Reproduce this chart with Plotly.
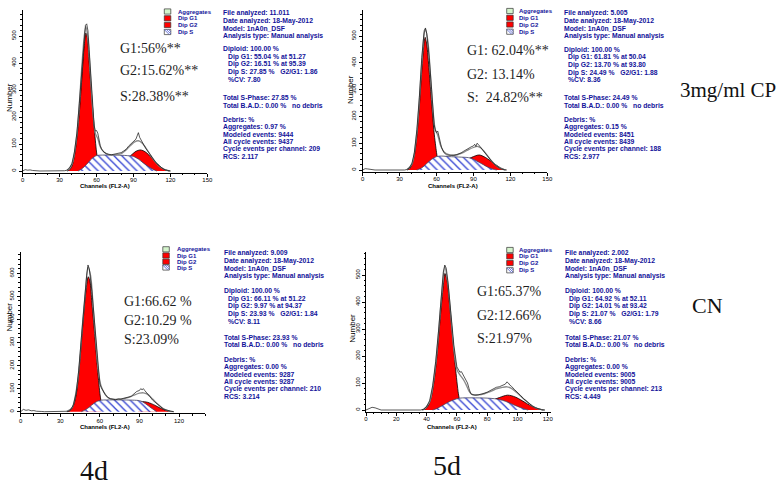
import plotly.graph_objects as go

W, H = 780, 488

# ======================= DATA =======================
# Panel A (top-left): G1:56%  G2:15.62%  S:28.38%
a_g1_ch = [36, 38, 40, 42, 44, 46, 48, 50, 51.3, 52.5, 54, 56, 58, 60, 61]
a_g1 = [0, 4, 18, 55, 120, 215, 340, 465, 511, 495, 400, 280, 165, 70, 40]
a_s_ch = [45, 48, 52, 56, 60, 65, 75, 85, 90, 94, 98, 102, 106, 109]
a_s = [0, 8, 25, 45, 57, 59, 59, 57, 54, 44, 30, 17, 6, 0]
a_g2_ch = [86, 89, 92, 95.4, 98, 101, 104, 107, 110, 113, 116, 119]
a_g2 = [50, 62, 73, 78, 75, 66, 52, 38, 24, 12, 4, 0]
a_fit_ch = [36, 40, 44, 48, 50, 51.3, 53, 55, 57, 59, 61, 63, 66, 70, 75, 80, 85, 88, 91, 94, 97, 100, 104, 108, 112, 116, 120]
a_fit = [2, 25, 135, 385, 500, 535, 490, 360, 220, 140, 120, 90, 70, 60, 60, 64, 82, 96, 108, 112, 104, 86, 58, 32, 14, 4, 0]
a_hist_ch = [0, 2, 4, 6, 8, 10, 14, 34, 36, 38, 40, 42, 44, 46, 48, 50, 51, 52, 53, 54, 56, 58, 59, 60, 61, 62, 63, 64, 66, 68, 70, 72, 74, 76, 78, 80, 82, 84, 86, 88, 90, 91, 92, 93, 94, 95, 96, 98, 100, 102, 104, 106, 108, 110, 112, 114, 116, 118, 120]
a_hist = [0, 5, 3, 4, 2, 1, 0, 1, 3, 10, 28, 70, 140, 250, 380, 500, 540, 545, 520, 450, 300, 170, 148, 150, 140, 115, 95, 82, 70, 64, 62, 60, 62, 64, 66, 68, 74, 80, 92, 100, 108, 112, 118, 130, 142, 125, 118, 100, 84, 70, 58, 45, 32, 22, 14, 8, 4, 1, 0]

# Panel B (top-right): G1 62.04%  G2 13.14%  S 24.82%
b_g1_ch = [36, 38, 40, 42, 44, 46, 48, 50, 50.7, 52, 54, 56, 58, 60, 61]
b_g1 = [0, 4, 20, 55, 125, 235, 370, 480, 495, 470, 370, 250, 140, 65, 35]
b_s_ch = [44, 48, 52, 56, 60, 64, 70, 80, 86, 90, 94, 98, 102, 106, 109]
b_s = [0, 8, 24, 40, 50, 52, 50, 48, 46, 40, 30, 20, 10, 3, 0]
b_g2_ch = [86, 90, 93, 95, 97, 100, 103, 106, 109, 112, 115, 117]
b_g2 = [42, 50, 55, 56, 53, 46, 37, 27, 17, 8, 2, 0]
b_fit_ch = [36, 40, 44, 48, 50, 51, 53, 55, 57, 59, 61, 63, 66, 70, 76, 82, 86, 90, 93, 96, 100, 104, 108, 112, 116]
b_fit = [2, 22, 140, 400, 510, 525, 480, 360, 230, 150, 130, 95, 68, 57, 56, 66, 76, 84, 88, 82, 62, 38, 18, 6, 0]
b_hist_ch = [0, 2, 4, 6, 8, 10, 34, 36, 38, 40, 42, 44, 46, 48, 50, 51, 52, 54, 56, 58, 59, 60, 61, 62, 64, 66, 68, 70, 72, 74, 76, 78, 80, 82, 84, 86, 88, 90, 91, 92, 93, 94, 95, 96, 98, 100, 102, 104, 106, 108, 110, 112, 114, 116]
b_hist = [0, 5, 4, 3, 1, 0, 0, 2, 8, 25, 65, 150, 270, 420, 520, 530, 510, 420, 300, 170, 150, 140, 145, 120, 85, 65, 57, 55, 54, 55, 57, 60, 64, 70, 76, 82, 86, 90, 96, 88, 100, 95, 90, 82, 72, 60, 48, 36, 26, 17, 10, 5, 2, 0]

# Panel C (bottom-left): G1 66.62%  G2 10.29%  S 23.09%
c_g1_ch = [35, 37, 39, 41, 43, 45, 47, 49, 51.2, 52.5, 54, 56, 58, 60, 61]
c_g1 = [0, 3, 15, 45, 110, 230, 370, 500, 585, 565, 470, 340, 200, 80, 40]
c_s_ch = [46, 49, 52, 55, 58, 61, 65, 75, 85, 90, 92, 95, 98, 101, 103]
c_s = [0, 8, 20, 34, 45, 50, 51, 51, 50, 48, 44, 33, 20, 8, 0]
c_g2_ch = [89, 91, 94, 96, 99, 102, 105, 108, 111, 114]
c_g2 = [44, 44, 43, 41, 35, 27, 18, 10, 4, 0]
c_fit_ch = [35, 39, 43, 47, 49, 51, 53, 55, 57, 59, 61, 63, 66, 70, 76, 82, 86, 90, 93, 96, 100, 104, 108, 112, 116]
c_fit = [2, 18, 125, 390, 520, 625, 590, 450, 300, 170, 110, 85, 62, 54, 55, 62, 72, 80, 82, 76, 55, 32, 14, 4, 0]
c_hist_ch = [0, 2, 4, 6, 8, 10, 12, 14, 16, 18, 34, 36, 38, 40, 42, 44, 46, 48, 50, 51, 52, 54, 56, 58, 60, 61, 62, 64, 66, 68, 70, 72, 74, 76, 78, 80, 82, 84, 86, 88, 90, 91, 92, 93, 94, 96, 98, 100, 102, 104, 106, 108, 110, 112, 114, 116]
c_hist = [0, 10, 6, 8, 4, 5, 2, 3, 1, 0, 0, 2, 10, 30, 80, 180, 320, 470, 590, 636, 620, 520, 380, 230, 120, 105, 95, 75, 62, 56, 54, 52, 55, 54, 58, 60, 64, 68, 80, 88, 92, 100, 95, 100, 92, 80, 65, 50, 40, 28, 20, 12, 8, 4, 2, 0]

# Panel D (bottom-right): G1 65.37%  G2 12.66%  S 21.97%
d_g1_ch = [37, 39, 41, 43, 45, 47, 49, 51, 52.1, 53.5, 55, 57, 59, 61, 62]
d_g1 = [0, 3, 15, 45, 110, 210, 340, 460, 506, 480, 400, 280, 160, 60, 30]
d_s_ch = [44, 47, 50, 54, 58, 62, 70, 80, 86, 90, 94, 98, 102, 105, 107]
d_s = [0, 6, 15, 28, 38, 44, 45, 44, 41, 36, 28, 18, 9, 3, 0]
d_g2_ch = [85, 88, 91, 93.4, 96, 99, 102, 105, 108, 111, 114, 117]
d_g2 = [40, 46, 52, 55, 53, 47, 38, 28, 18, 10, 4, 0]
d_fit_ch = [38, 42, 46, 50, 52, 54, 56, 58, 60, 62, 64, 66, 68, 70, 76, 82, 86, 90, 93, 96, 100, 104, 108, 112, 116, 118]
d_fit = [2, 30, 170, 430, 530, 470, 350, 225, 150, 130, 115, 95, 70, 58, 57, 68, 78, 84, 86, 80, 62, 42, 22, 8, 1, 0]
d_hist_ch = [0, 2, 4, 6, 8, 10, 36, 38, 40, 42, 44, 46, 48, 50, 51, 52, 53, 54, 56, 58, 60, 61, 62, 63, 64, 65, 66, 67, 68, 69, 70, 72, 74, 76, 78, 80, 82, 84, 86, 88, 90, 92, 93, 94, 95, 96, 98, 100, 102, 104, 106, 108, 110, 112, 114, 116, 118]
d_hist = [0, 4, 10, 8, 3, 0, 0, 3, 12, 35, 90, 180, 300, 440, 510, 537, 525, 480, 360, 240, 160, 148, 140, 142, 132, 120, 112, 100, 80, 62, 57, 55, 56, 58, 62, 66, 72, 78, 84, 86, 90, 96, 104, 100, 92, 88, 76, 66, 54, 42, 32, 22, 14, 8, 4, 1, 0]

# big labels
a_labels = ["G1:56%**", "G2:15.62%**", "S:28.38%**"]
b_labels = ["G1: 62.04%**", "G2: 13.14%", "S:\u00a0\u00a024.82%**"]
c_labels = ["G1:66.62 %", "G2:10.29 %", "S:23.09%"]
d_labels = ["G1:65.37%", "G2:12.66%", "S:21.97%"]

legend_items = ["Aggregates", "Dip G1", "Dip G2", "Dip S"]

SP = "\u00a0\u00a0\u00a0"
a_info = [["File analyzed: 11.011", "Date analyzed: 18-May-2012", "Model: 1nA0n_DSF", "Analysis type: Manual analysis"],
          ["Diploid: 100.00 %", "Dip G1: 55.04 % at 51.27", "Dip G2: 16.51 % at 95.39", "Dip S: 27.85 %" + SP + "G2/G1: 1.86", "%CV: 7.80"],
          ["Total S-Phase: 27.85 %", "Total B.A.D.: 0.00 %" + SP + "no debris"],
          ["Debris: %", "Aggregates: 0.97 %", "Modeled events: 9444", "All cycle events: 9437", "Cycle events per channel: 209", "RCS: 2.117"]]
b_info = [["File analyzed: 5.005", "Date analyzed: 18-May-2012", "Model: 1nA0n_DSF", "Analysis type: Manual analysis"],
          ["Diploid: 100.00 %", "Dip G1: 61.81 % at 50.04", "Dip G2: 13.70 % at 93.80", "Dip S: 24.49 %" + SP + "G2/G1: 1.88", "%CV: 8.36"],
          ["Total S-Phase: 24.49 %", "Total B.A.D.: 0.00 %" + SP + "no debris"],
          ["Debris: %", "Aggregates: 0.15 %", "Modeled events: 8451", "All cycle events: 8439", "Cycle events per channel: 188", "RCS: 2.977"]]
c_info = [["File analyzed: 9.009", "Date analyzed: 18-May-2012", "Model: 1nA0n_DSF", "Analysis type: Manual analysis"],
          ["Diploid: 100.00 %", "Dip G1: 66.11 % at 51.22", "Dip G2: 9.97 % at 94.37", "Dip S: 23.93 %" + SP + "G2/G1: 1.84", "%CV: 8.11"],
          ["Total S-Phase: 23.93 %", "Total B.A.D.: 0.00 %" + SP + "no debris"],
          ["Debris: %", "Aggregates: 0.00 %", "Modeled events: 9287", "All cycle events: 9287", "Cycle events per channel: 210", "RCS: 3.214"]]
d_info = [["File analyzed: 2.002", "Date analyzed: 18-May-2012", "Model: 1nA0n_DSF", "Analysis type: Manual analysis"],
          ["Diploid: 100.00 %", "Dip G1: 64.92 % at 52.11", "Dip G2: 14.01 % at 93.42", "Dip S: 21.07 %" + SP + "G2/G1: 1.79", "%CV: 8.66"],
          ["Total S-Phase: 21.07 %", "Total B.A.D.: 0.00 %" + SP + "no debris"],
          ["Debris: %", "Aggregates: 0.00 %", "Modeled events: 9005", "All cycle events: 9005", "Cycle events per channel: 213", "RCS: 4.449"]]

row_labels = ["3mg/ml CP", "CN"]
col_labels = ["4d", "5d"]

# ======================= LAYOUT GEOMETRY =======================
panels = [
    dict(d=(a_g1_ch, a_g1, a_s_ch, a_s, a_g2_ch, a_g2, a_fit_ch, a_fit, a_hist_ch, a_hist),
         labels=a_labels, info=a_info,
         xpx=(22.7, 207.3), xmax=150, xdt=30, xminor=10, y0=171, ys=0.27, ytop=10,
         lab=(118, [48, 71, 97]), leg=(164.3, 176, [11.5, 18.3, 25.0, 32.0]),
         infox=221.3, infoy=[13.3, 49.3, 98.0, 119.3],
         chan=(105, 185.5), num=(10, 98), nsub=""),
    dict(d=(b_g1_ch, b_g1, b_s_ch, b_s, b_g2_ch, b_g2, b_fit_ch, b_fit, b_hist_ch, b_hist),
         labels=b_labels, info=b_info,
         xpx=(362.7, 547.3), xmax=150, xdt=30, xminor=10, y0=170, ys=0.268, ytop=10,
         lab=(465, [50, 74, 98]), leg=(506.7, 516.7, [11.0, 17.8, 24.5, 31.7]),
         infox=561.7, infoy=[13.3, 50.0, 97.5, 119.3],
         chan=(453, 185.5), num=(350, 90), nsub="2"),
    dict(d=(c_g1_ch, c_g1, c_s_ch, c_s, c_g2_ch, c_g2, c_fit_ch, c_fit, c_hist_ch, c_hist),
         labels=c_labels, info=c_info,
         xpx=(20.7, 205.4), xmax=140, xdt=30, xminor=10, y0=411.7, ys=0.2307, ytop=251.7,
         lab=(121.7, [301.7, 320, 339.3]), leg=(162.8, 174.5, [249.3, 255.5, 261.7, 267.5]),
         infox=221.7, infoy=[253.3, 291.0, 337.3, 359.3],
         chan=(105, 426.5), num=(8.5, 317), nsub="3"),
    dict(d=(d_g1_ch, d_g1, d_s_ch, d_s, d_g2_ch, d_g2, d_fit_ch, d_fit, d_hist_ch, d_hist),
         labels=d_labels, info=d_info,
         xpx=(366, 550.8), xmax=122, xdt=20, xminor=5, y0=410, ys=0.27, ytop=251.7,
         lab=(475, [291.7, 315, 338.3]), leg=(506.7, 516.7, [250.0, 256.3, 263.0, 270.3]),
         infox=562.7, infoy=[253.3, 291.0, 337.3, 359.3],
         chan=(451.5, 426.5), num=(351.7, 328), nsub="4"),
]

BLUE = "#12129a"
SANS = "Liberation Sans, Arial, sans-serif"
SERIF = "Liberation Serif, Times New Roman, serif"

def px(x):
    return x / W

def py(y):
    return 1 - y / H

fig = go.Figure()
annotations = []
shapes = []
layout_axes = {}

for p in panels:
    n = p["nsub"]
    xa, ya = "x" + n, "y" + n
    g1c, g1, sc, s, g2c, g2, fc, f, hc, h = p["d"]
    common = dict(xaxis=xa, yaxis=ya, mode="lines", hoverinfo="skip", showlegend=False)
    fig.add_trace(go.Scatter(x=g1c, y=g1, fill="tozeroy", fillcolor="#ff0000",
                             line=dict(color="#000000", width=0.8, shape="spline", smoothing=0.8), **common))
    fig.add_trace(go.Scatter(x=g2c, y=g2, fill="tozeroy", fillcolor="#ff0000",
                             line=dict(color="#000000", width=0.8, shape="spline", smoothing=0.8), **common))
    fig.add_trace(go.Scatter(x=sc, y=s, fill="tozeroy", fillcolor="white",
                             fillpattern=dict(shape="\\", fgcolor="#2a3ad0", bgcolor="white", size=5.5, solidity=0.22),
                             line=dict(color="#404060", width=0.8, shape="spline", smoothing=0.8), **common))
    fig.add_trace(go.Scatter(x=fc, y=f, line=dict(color="#8a8a8a", width=1.3, shape="spline", smoothing=0.8), **common))
    fig.add_trace(go.Scatter(x=hc, y=h, line=dict(color="#111111", width=0.7), **common))

    x0p, x1p = p["xpx"]
    y0, ys, ytop = p["y0"], p["ys"], p["ytop"]
    ybot = y0 + 1.6
    ymin = -(ybot - y0) / ys
    ymax = (y0 - ytop) / ys
    key = n
    layout_axes["xaxis" + key] = dict(
        domain=[px(x0p), px(x1p)], range=[0, p["xmax"]], anchor=ya, automargin=False,
        showline=True, linecolor="black", linewidth=1, showgrid=False, zeroline=False,
        ticks="outside", ticklen=3, tickwidth=1, tickcolor="black", dtick=p["xdt"], tick0=0,
        ticklabelstandoff=-2,
        tickfont=dict(family=SANS, size=6, color="black"),
        minor=dict(dtick=p["xminor"], ticks="outside", ticklen=1.5, tickcolor="black"))
    layout_axes["yaxis" + key] = dict(
        domain=[py(ybot), py(ytop)], range=[ymin, ymax], anchor=xa, automargin=False,
        showline=True, linecolor="black", linewidth=1, showgrid=False, zeroline=False,
        ticks="outside", ticklen=3, tickwidth=1, tickcolor="black", dtick=100, tick0=0,
        tickangle=-90, tickfont=dict(family=SANS, size=6, color="black"),
        minor=dict(dtick=20, ticks="outside", ticklen=1.5, tickcolor="black"))

    # big phase labels
    lx, lys = p["lab"]
    for t, yy in zip(p["labels"], lys):
        annotations.append(dict(x=px(lx), y=py(yy), xref="paper", yref="paper", text=t, showarrow=False,
                                xanchor="left", yanchor="middle",
                                font=dict(family=SERIF, size=14, color="#1e1e1e")))
    # legend
    bx, tx, rows = p["leg"]
    fills = ["#d4f4cc", "#ff0000", "#ff0000", "white"]
    for t, yy, fc_ in zip(legend_items, rows, fills):
        shapes.append(dict(type="rect", xref="paper", yref="paper", x0=px(bx), x1=px(bx + 6.5),
                           y0=py(yy + 2.6), y1=py(yy - 2.6), fillcolor=fc_,
                           line=dict(color="#333333", width=0.7)))
        annotations.append(dict(x=px(tx), y=py(yy), xref="paper", yref="paper", text="<b>" + t + "</b>",
                                showarrow=False, xanchor="left", yanchor="middle",
                                font=dict(family=SANS, size=6, color=BLUE)))
    yy = rows[3]
    for k in (0, 2.2, 4.4):
        shapes.append(dict(type="line", xref="paper", yref="paper",
                           x0=px(bx + k), y0=py(yy - 2.4), x1=px(min(bx + k + 4.8, bx + 6.5)),
                           y1=py(yy - 2.4 + min(4.8, 6.5 - k)), line=dict(color="#3040c8", width=0.7)))
    # info text
    for gi, (grp, gy) in enumerate(zip(p["info"], p["infoy"])):
        for i, line in enumerate(grp):
            indent = 4.5 if (gi == 1 and i > 0) else 0
            annotations.append(dict(x=px(p["infox"] + indent), y=py(gy + i * 7.5), xref="paper", yref="paper",
                                    text="<b>" + line + "</b>", showarrow=False, xanchor="left", yanchor="middle",
                                    font=dict(family=SANS, size=6.8, color=BLUE)))
    # axis titles
    cx, cy = p["chan"]
    annotations.append(dict(x=px(cx), y=py(cy), xref="paper", yref="paper", text="<b>Channels (FL2-A)</b>",
                            showarrow=False, xanchor="center", yanchor="middle",
                            font=dict(family=SANS, size=6, color="black")))
    nx, ny = p["num"]
    annotations.append(dict(x=px(nx), y=py(ny), xref="paper", yref="paper", text="Number", textangle=-90,
                            showarrow=False, xanchor="center", yanchor="middle",
                            font=dict(family=SANS, size=8, color="black")))

# row / column labels
annotations.append(dict(x=px(678), y=py(90), xref="paper", yref="paper", text=row_labels[0], showarrow=False,
                        xanchor="left", yanchor="middle", font=dict(family=SERIF, size=21, color="#111111")))
annotations.append(dict(x=px(690), y=py(305), xref="paper", yref="paper", text=row_labels[1], showarrow=False,
                        xanchor="left", yanchor="middle", font=dict(family=SERIF, size=22, color="#111111")))
annotations.append(dict(x=px(78), y=py(470), xref="paper", yref="paper", text=col_labels[0], showarrow=False,
                        xanchor="left", yanchor="middle", font=dict(family=SERIF, size=28, color="#111111")))
annotations.append(dict(x=px(431), y=py(465), xref="paper", yref="paper", text=col_labels[1], showarrow=False,
                        xanchor="left", yanchor="middle", font=dict(family=SERIF, size=28, color="#111111")))

fig.update_layout(width=W, height=H, margin=dict(l=0, r=0, t=0, b=0, autoexpand=False),
                  template="none", paper_bgcolor="white", plot_bgcolor="white",
                  annotations=annotations, shapes=shapes, **layout_axes)

fig.write_html("out.html", config={"displayModeBar": False},
               post_script="document.body.style.margin='0';document.body.style.overflow='hidden';")
